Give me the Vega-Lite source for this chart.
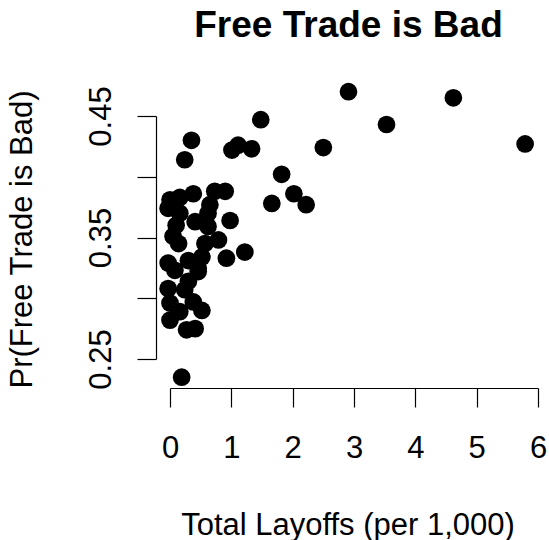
{
  "$schema": "https://vega.github.io/schema/vega-lite/v6.json",
  "width": 368,
  "height": 243,
  "autosize": {"type": "none"},
  "padding": {"left": 170, "top": 116, "right": 11, "bottom": 181},
  "background": "white",
  "config": {
    "view": {"stroke": null},
    "font": "Liberation Sans"
  },
  "title": {
    "text": "Free Trade is Bad",
    "font": "Liberation Sans",
    "fontSize": 37,
    "fontWeight": "bold",
    "color": "black",
    "frame": "group",
    "offset": 38,
    "dx": -5.5,
    "anchor": "middle"
  },
  "data": {
    "values": [
      {"layoffs": 2.91, "pr": 0.470},
      {"layoffs": 4.62, "pr": 0.465},
      {"layoffs": 3.53, "pr": 0.443},
      {"layoffs": 5.79, "pr": 0.427},
      {"layoffs": 2.50, "pr": 0.424},
      {"layoffs": 1.48, "pr": 0.447},
      {"layoffs": 1.82, "pr": 0.402},
      {"layoffs": 2.02, "pr": 0.386},
      {"layoffs": 2.22, "pr": 0.377},
      {"layoffs": 1.66, "pr": 0.378},
      {"layoffs": 1.11, "pr": 0.426},
      {"layoffs": 1.33, "pr": 0.423},
      {"layoffs": 1.01, "pr": 0.422},
      {"layoffs": 0.35, "pr": 0.430},
      {"layoffs": 0.24, "pr": 0.414},
      {"layoffs": 0.00, "pr": 0.381},
      {"layoffs": 0.16, "pr": 0.383},
      {"layoffs": 0.38, "pr": 0.386},
      {"layoffs": 0.73, "pr": 0.388},
      {"layoffs": 0.90, "pr": 0.388},
      {"layoffs": -0.03, "pr": 0.374},
      {"layoffs": 0.16, "pr": 0.370},
      {"layoffs": 0.62, "pr": 0.370},
      {"layoffs": 0.98, "pr": 0.364},
      {"layoffs": 0.41, "pr": 0.363},
      {"layoffs": 0.62, "pr": 0.359},
      {"layoffs": 0.05, "pr": 0.351},
      {"layoffs": 0.14, "pr": 0.345},
      {"layoffs": 0.79, "pr": 0.348},
      {"layoffs": 0.57, "pr": 0.345},
      {"layoffs": 1.22, "pr": 0.338},
      {"layoffs": 0.92, "pr": 0.333},
      {"layoffs": 0.52, "pr": 0.334},
      {"layoffs": -0.03, "pr": 0.329},
      {"layoffs": 0.30, "pr": 0.331},
      {"layoffs": 0.46, "pr": 0.325},
      {"layoffs": 0.08, "pr": 0.323},
      {"layoffs": -0.03, "pr": 0.308},
      {"layoffs": 0.30, "pr": 0.314},
      {"layoffs": 0.46, "pr": 0.322},
      {"layoffs": 0.00, "pr": 0.296},
      {"layoffs": 0.38, "pr": 0.297},
      {"layoffs": 0.52, "pr": 0.290},
      {"layoffs": 0.00, "pr": 0.282},
      {"layoffs": 0.27, "pr": 0.274},
      {"layoffs": 0.41, "pr": 0.275},
      {"layoffs": 0.16, "pr": 0.289},
      {"layoffs": 0.19, "pr": 0.235},
      {"layoffs": 0.65, "pr": 0.377},
      {"layoffs": 0.10, "pr": 0.360},
      {"layoffs": 0.24, "pr": 0.307}
    ]
  },
  "mark": {"type": "circle", "size": 314, "color": "black", "opacity": 1, "clip": false},
  "encoding": {
    "x": {
      "field": "layoffs",
      "type": "quantitative",
      "scale": {"domain": [0, 6], "nice": false, "zero": false},
      "axis": {
        "title": "Total Layoffs (per 1,000)",
        "values": [0, 1, 2, 3, 4, 5, 6],
        "format": "d",
        "grid": false,
        "offset": 29,
        "domainColor": "black",
        "domainWidth": 1.2,
        "tickColor": "black",
        "tickWidth": 1.2,
        "tickSize": 19,
        "labelFont": "Liberation Sans",
        "labelFontSize": 31,
        "labelColor": "black",
        "labelBaseline": "alphabetic",
        "labelPadding": 50,
        "labelFlush": false,
        "labelOverlap": false,
        "titleFont": "Liberation Sans",
        "titleFontSize": 31,
        "titleFontWeight": "normal",
        "titleColor": "black",
        "titleBaseline": "alphabetic",
        "titleX": 177.5,
        "titleY": 146
      }
    },
    "y": {
      "field": "pr",
      "type": "quantitative",
      "scale": {"domain": [0.25, 0.45], "nice": false, "zero": false},
      "axis": {
        "title": "Pr(Free Trade is Bad)",
        "values": [0.25, 0.3, 0.35, 0.4, 0.45],
        "labelExpr": "(format(datum.value, '.2f') == '0.25' || format(datum.value, '.2f') == '0.35' || format(datum.value, '.2f') == '0.45') ? format(datum.value, '.2f') : ''",
        "grid": false,
        "offset": 14,
        "domainColor": "black",
        "domainWidth": 1.2,
        "tickColor": "black",
        "tickWidth": 1.2,
        "tickSize": 19,
        "labelFont": "Liberation Sans",
        "labelFontSize": 31,
        "labelColor": "black",
        "labelAngle": -90,
        "labelAlign": "center",
        "labelBaseline": "alphabetic",
        "labelPadding": 27,
        "labelFlush": false,
        "labelOverlap": false,
        "titleFont": "Liberation Sans",
        "titleFontSize": 31,
        "titleFontWeight": "normal",
        "titleColor": "black",
        "titleBaseline": "alphabetic",
        "titleAngle": -90,
        "titleX": -125,
        "titleY": 123
      }
    }
  }
}
